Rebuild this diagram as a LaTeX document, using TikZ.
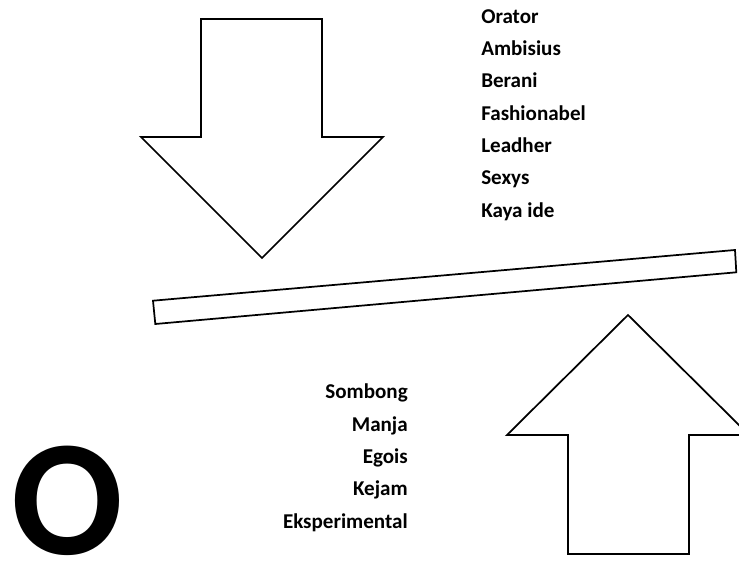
\documentclass[tikz,border=0pt]{standalone}
\usepackage{fontspec}
\setmainfont{Carlito}
\usetikzlibrary{positioning}

\begin{document}
\begin{tikzpicture}[
  x=0.75pt, y=-0.75pt,
  outline/.style={draw=black, line width=1.3pt, fill=white, line join=miter},
  word/.style={inner sep=0pt, font=\fontsize{15.8}{18}\selectfont\bfseries},
  bigletter/.style={inner sep=0pt, font=\fontsize{124}{130}\selectfont\bfseries}
]
  \clip (0,0) rectangle (739,566);

  % Arrows
  \draw[outline] (201,19) -- (322,19) -- (322,137) -- (383,137) -- (262,258) -- (141,137) -- (201,137) -- cycle;
  \draw[outline] (628,315) -- (749,435) -- (689,435) -- (689,554) -- (568,554) -- (568,435) -- (507,435) -- cycle;

  % Beam
  \draw[outline] (153,300.7) -- (735,250) -- (736.3,272.3) -- (155.3,324) -- cycle;

  % Upper words
  \node[word, anchor=base west] (orator) at (481, 23.3) {Orator};
  \node[word, anchor=base west] (ambisius) at (481, 55.6) {Ambisius};
  \node[word, anchor=base west] (berani) at (481, 87.9) {Berani};
  \node[word, anchor=base west] (fashionabel) at (481, 120.2) {Fashionabel};
  \node[word, anchor=base west] (leadher) at (481, 152.5) {Leadher};
  \node[word, anchor=base west] (sexys) at (481, 184.8) {Sexys};
  \node[word, anchor=base west] (kayaide) at (481, 217.1) {Kaya ide};

  % Lower words
  \node[word, anchor=base east] (sombong) at (408, 399) {Sombong};
  \node[word, anchor=base east] (manja) at (408, 431.3) {Manja};
  \node[word, anchor=base east] (egois) at (408, 463.6) {Egois};
  \node[word, anchor=base east] (kejam) at (408, 495.9) {Kejam};
  \node[word, anchor=base east] (eksperimental) at (408, 528.2) {Eksperimental};

  % Letter
  \node[bigletter, anchor=north west] (letter) at (11, 446) {O};
\end{tikzpicture}
\end{document}
